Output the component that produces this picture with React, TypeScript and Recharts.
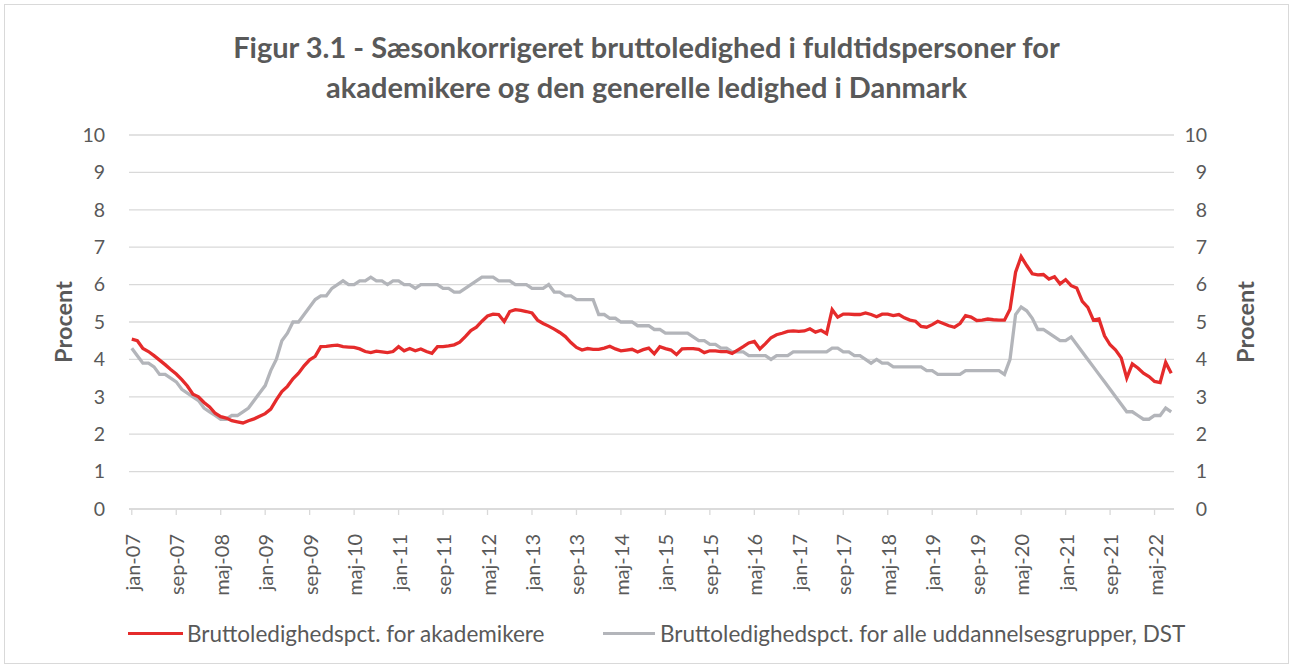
import { LineChart, Line, XAxis, YAxis, CartesianGrid, Label } from 'recharts';

const monthNames = ['jan', 'feb', 'mar', 'apr', 'maj', 'jun', 'jul', 'aug', 'sep', 'okt', 'nov', 'dec'];
const years = ['07', '08', '09', '10', '11', '12', '13', '14', '15', '16', '17', '18', '19', '20', '21', '22'];
const monthsInLastYear = 8; // jan-22 .. aug-22

// Bruttoledighedspct. for akademikere (monthly, jan-07 .. aug-22)
const akademikere = [
  4.54, 4.5, 4.29, 4.21, 4.1, 3.98, 3.86, 3.73, 3.61, 3.46, 3.29, 3.07,
  3.0, 2.85, 2.73, 2.56, 2.47, 2.43, 2.36, 2.33, 2.3, 2.36, 2.41, 2.48,
  2.55, 2.67, 2.92, 3.14, 3.28, 3.48, 3.63, 3.83, 3.99, 4.08, 4.34, 4.35,
  4.37, 4.38, 4.34, 4.33, 4.32, 4.28, 4.21, 4.18, 4.22, 4.2, 4.18, 4.21,
  4.34, 4.23, 4.29, 4.23, 4.28, 4.21, 4.16, 4.34, 4.34, 4.36, 4.39, 4.46,
  4.61, 4.77, 4.86, 5.02, 5.16, 5.21, 5.2, 5.01, 5.28, 5.33, 5.31, 5.28,
  5.24, 5.05, 4.96, 4.89, 4.81, 4.72, 4.61, 4.45, 4.32, 4.25, 4.29, 4.27,
  4.27, 4.3, 4.35, 4.28, 4.23, 4.25, 4.27, 4.2, 4.26, 4.3, 4.15, 4.34,
  4.29, 4.25, 4.13, 4.28, 4.29, 4.29, 4.27, 4.18, 4.23, 4.23, 4.21, 4.21,
  4.16, 4.25, 4.34, 4.44, 4.48, 4.28, 4.42, 4.58, 4.66, 4.7, 4.75, 4.76,
  4.75, 4.76, 4.82, 4.73, 4.78, 4.69, 5.33, 5.13, 5.21, 5.21, 5.2, 5.2,
  5.24, 5.2, 5.14, 5.21, 5.21, 5.17, 5.2, 5.11, 5.05, 5.02, 4.88, 4.86,
  4.93, 5.02, 4.96, 4.9, 4.86, 4.96, 5.17, 5.13, 5.04, 5.05, 5.08, 5.06,
  5.05, 5.05, 5.34, 6.33, 6.75, 6.51, 6.29, 6.26, 6.27, 6.15, 6.21, 6.02,
  6.13, 5.97, 5.91, 5.55, 5.39, 5.05, 5.08, 4.63, 4.39, 4.25, 4.04, 3.5,
  3.88, 3.77, 3.63, 3.54, 3.41, 3.38, 3.92, 3.63,
];

// Bruttoledighedspct. for alle uddannelsesgrupper, DST
const alleGrupper = [
  4.3, 4.1, 3.9, 3.9, 3.8, 3.6, 3.6, 3.5, 3.4, 3.2, 3.1, 3.0,
  2.9, 2.7, 2.6, 2.5, 2.4, 2.4, 2.5, 2.5, 2.6, 2.7, 2.9, 3.1,
  3.3, 3.7, 4.0, 4.5, 4.7, 5.0, 5.0, 5.2, 5.4, 5.6, 5.7, 5.7,
  5.9, 6.0, 6.1, 6.0, 6.0, 6.1, 6.1, 6.2, 6.1, 6.1, 6.0, 6.1,
  6.1, 6.0, 6.0, 5.9, 6.0, 6.0, 6.0, 6.0, 5.9, 5.9, 5.8, 5.8,
  5.9, 6.0, 6.1, 6.2, 6.2, 6.2, 6.1, 6.1, 6.1, 6.0, 6.0, 6.0,
  5.9, 5.9, 5.9, 6.0, 5.8, 5.8, 5.7, 5.7, 5.6, 5.6, 5.6, 5.6,
  5.2, 5.2, 5.1, 5.1, 5.0, 5.0, 5.0, 4.9, 4.9, 4.9, 4.8, 4.8,
  4.7, 4.7, 4.7, 4.7, 4.7, 4.6, 4.5, 4.5, 4.4, 4.4, 4.3, 4.3,
  4.2, 4.2, 4.2, 4.1, 4.1, 4.1, 4.1, 4.0, 4.1, 4.1, 4.1, 4.2,
  4.2, 4.2, 4.2, 4.2, 4.2, 4.2, 4.3, 4.3, 4.2, 4.2, 4.1, 4.1,
  4.0, 3.9, 4.0, 3.9, 3.9, 3.8, 3.8, 3.8, 3.8, 3.8, 3.8, 3.7,
  3.7, 3.6, 3.6, 3.6, 3.6, 3.6, 3.7, 3.7, 3.7, 3.7, 3.7, 3.7,
  3.7, 3.6, 4.0, 5.2, 5.4, 5.3, 5.1, 4.8, 4.8, 4.7, 4.6, 4.5,
  4.5, 4.6, 4.4, 4.2, 4.0, 3.8, 3.6, 3.4, 3.2, 3.0, 2.8, 2.6,
  2.6, 2.5, 2.4, 2.4, 2.5, 2.5, 2.7, 2.6,
];

const yTicks = [0, 1, 2, 3, 4, 5, 6, 7, 8, 9, 10];

const labels: string[] = [];
years.forEach((yy, yi) => {
  const n = yi === years.length - 1 ? monthsInLastYear : 12;
  for (let m = 0; m < n; m++) labels.push(`${monthNames[m]}-${yy}`);
});

const data = labels.map((label, i) => ({
  label,
  akademikere: akademikere[i],
  alle: alleGrupper[i],
}));

const RED = '#e52b2b';
const GRAY = '#b3b5ba';
const TEXT = '#595959';
const GRID = '#d9d9d9';
const FONT = 'Lato, "Open Sans", sans-serif';

function XTick({ x, y, payload }: any) {
  const tx = x + 8;
  return (
    <text
      x={tx}
      y={y}
      transform={`rotate(-90, ${tx}, ${y})`}
      textAnchor="end"
      fill={TEXT}
      fontSize={20}
      fontFamily={FONT}
    >
      {payload.value}
    </text>
  );
}

function LeftTick({ x, y, payload }: any) {
  return (
    <text x={x} y={y} dy="0.35em" textAnchor="end" fill={TEXT} fontSize={19.5} fontFamily={FONT}>
      {payload.value}
    </text>
  );
}

function RightTick({ x, y, payload }: any) {
  return (
    <text x={x + 22} y={y} dy="0.35em" textAnchor="end" fill={TEXT} fontSize={19.5} fontFamily={FONT}>
      {payload.value}
    </text>
  );
}

function ProcentLabel({ viewBox, dxFromLeft }: any) {
  const cx = viewBox.x + dxFromLeft;
  const cy = viewBox.y + viewBox.height / 2;
  return (
    <text
      x={cx}
      y={cy}
      transform={`rotate(-90, ${cx}, ${cy})`}
      textAnchor="middle"
      dominantBaseline="central"
      fill={TEXT}
      fontSize={23.5}
      fontWeight="bold"
      fontFamily={FONT}
    >
      Procent
    </text>
  );
}

export default function App() {
  return (
    <div style={{ position: 'absolute', left: 0, top: 0, width: 1293, height: 668, background: '#fff', fontFamily: FONT }}>
      <div style={{
        position: 'absolute', left: 4, top: 4, width: 1283, height: 658,
        border: `1px solid ${GRID}`,
      }} />
      <div style={{
        position: 'absolute', left: 0, top: 27, width: 1293, textAlign: 'center',
        color: TEXT, fontSize: 29, fontWeight: 'bold', lineHeight: '40px',
      }}>
        Figur 3.1 - Sæsonkorrigeret bruttoledighed i fuldtidspersoner for
        <br />
        akademikere og den generelle ledighed i Danmark
      </div>

      <div style={{ position: 'absolute', left: 0, top: 0 }}>
        <LineChart width={1293} height={668} data={data} margin={{ top: 135, right: 0, bottom: 0, left: 0 }}>
          <CartesianGrid vertical={false} stroke={GRID} strokeWidth={1.3} />
          <XAxis
            dataKey="label"
            scale="band"
            interval={7}
            height={159}
            axisLine={{ stroke: GRID, strokeWidth: 1.3 }}
            tickLine={{ stroke: GRID, strokeWidth: 1.3 }}
            tickSize={6}
            tickMargin={19}
            tick={<XTick />}
          />
          <YAxis
            domain={[0, 10]}
            ticks={yTicks}
            width={129}
            axisLine={false}
            tickLine={false}
            tickMargin={18}
            tick={<LeftTick />}
          >
            <Label content={<ProcentLabel dxFromLeft={63} />} />
          </YAxis>
          <YAxis
            yAxisId="right"
            orientation="right"
            domain={[0, 10]}
            ticks={yTicks}
            width={119}
            axisLine={false}
            tickLine={false}
            tickMargin={5}
            tick={<RightTick />}
          >
            <Label content={<ProcentLabel dxFromLeft={71} />} />
          </YAxis>
          <Line
            type="linear"
            yAxisId="right"
            dataKey="alle"
            stroke={GRAY}
            strokeWidth={3.3}
            dot={false}
            isAnimationActive={false}
          />
          <Line
            type="linear"
            dataKey="akademikere"
            stroke={RED}
            strokeWidth={3.3}
            dot={false}
            isAnimationActive={false}
          />
        </LineChart>
      </div>

      <div style={{ position: 'absolute', left: 128, top: 619, display: 'flex', alignItems: 'center', color: TEXT, fontSize: 22.5, height: 28 }}>
        <span style={{ display: 'inline-block', width: 55, height: 3, background: RED, marginRight: 4 }} />
        <span>Bruttoledighedspct. for akademikere</span>
      </div>
      <div style={{ position: 'absolute', left: 603, top: 619, display: 'flex', alignItems: 'center', color: TEXT, fontSize: 22.5, height: 28 }}>
        <span style={{ display: 'inline-block', width: 52, height: 3, background: GRAY, marginRight: 5 }} />
        <span>Bruttoledighedspct. for alle uddannelsesgrupper, DST</span>
      </div>
    </div>
  );
}
